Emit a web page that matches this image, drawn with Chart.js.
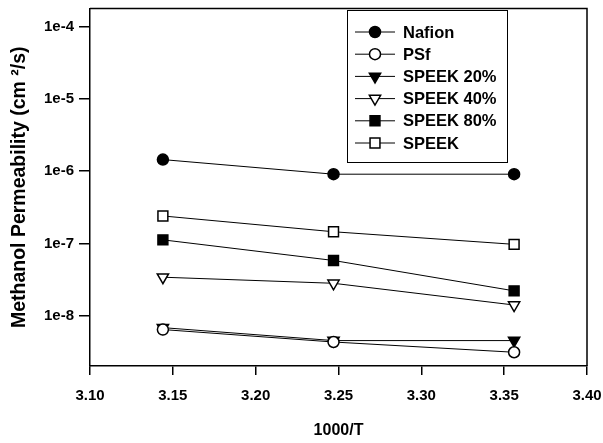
<!DOCTYPE html>
<html>
<head>
<meta charset="utf-8">
<script src="https://cdn.jsdelivr.net/npm/chart.js@4.4.1/dist/chart.umd.min.js"></script>
<style>
  html, body { margin: 0; padding: 0; background: #fff; }
  #wrap { width: 603px; height: 443px; }
</style>
</head>
<body>
<div id="wrap"><canvas id="c"></canvas></div>
<script>
// 1000/T values of the three temperatures
const xValues = [3.144, 3.247, 3.356];

// methanol permeability, cm2/s
const nafion  = [1.45e-6, 9.1e-7, 9.1e-7];
const psf     = [6.4e-9, 4.3e-9, 3.1e-9];
const speek20 = [6.8e-9, 4.5e-9, 4.5e-9];
const speek40 = [3.4e-8, 2.8e-8, 1.4e-8];
const speek80 = [1.12e-7, 5.8e-8, 2.2e-8];
const speek   = [2.4e-7, 1.45e-7, 9.7e-8];

const seriesNames = ['Nafion', 'PSf', 'SPEEK 20%', 'SPEEK 40%', 'SPEEK 80%', 'SPEEK'];

const xTicks = [3.10, 3.15, 3.20, 3.25, 3.30, 3.35, 3.40];
const yTicks = [1e-8, 1e-7, 1e-6, 1e-5, 1e-4];

const FONT = "'Liberation Sans', Arial, sans-serif";

// marker look per series
const markers = [
  { pointStyle: 'circle',   radius: 5.5, rotation: 0,   fill: '#000' },
  { pointStyle: 'circle',   radius: 5.5, rotation: 0,   fill: '#fff' },
  { pointStyle: 'triangle', radius: 6.5, rotation: 180, fill: '#000' },
  { pointStyle: 'triangle', radius: 6.5, rotation: 180, fill: '#fff' },
  { pointStyle: 'rect',     radius: 7,   rotation: 0,   fill: '#000' },
  { pointStyle: 'rect',     radius: 7,   rotation: 0,   fill: '#fff' }
];

const allValues = [nafion, psf, speek20, speek40, speek80, speek];

const datasets = allValues.map((vals, i) => ({
  label: seriesNames[i],
  data: vals.map((v, j) => ({ x: xValues[j], y: v })),
  borderColor: '#000',
  borderWidth: 1,
  backgroundColor: markers[i].fill,
  pointStyle: markers[i].pointStyle,
  pointRadius: markers[i].radius,
  pointRotation: markers[i].rotation,
  pointBackgroundColor: markers[i].fill,
  pointBorderColor: '#000',
  pointBorderWidth: 1.5,
  tension: 0,
  clip: false
}));

function noPad(axis) {
  axis.paddingTop = 0;
  axis.paddingBottom = 0;
  axis.paddingLeft = 0;
  axis.paddingRight = 0;
}

// box around the plot area and legend drawn inside it
const framePlugin = {
  id: 'frame',
  afterDraw(chart) {
    const ctx = chart.ctx;
    const a = chart.chartArea;
    ctx.save();
    ctx.strokeStyle = '#000';
    ctx.lineWidth = 1.5;
    ctx.beginPath();
    ctx.moveTo(a.left, a.top);
    ctx.lineTo(a.right, a.top);
    ctx.lineTo(a.right, a.bottom);
    ctx.stroke();

    // legend
    ctx.lineWidth = 1;
    ctx.strokeRect(347.5, 10.5, 160, 152);
    ctx.font = 'bold 16.5px ' + FONT;
    ctx.textBaseline = 'middle';
    ctx.textAlign = 'left';
    seriesNames.forEach((name, i) => {
      const y = 32 + i * 22.2;
      ctx.strokeStyle = '#000';
      ctx.lineWidth = 1;
      ctx.beginPath();
      ctx.moveTo(355, y);
      ctx.lineTo(395, y);
      ctx.stroke();
      ctx.fillStyle = markers[i].fill;
      ctx.lineWidth = 1.5;
      Chart.helpers.drawPoint(ctx, {
        pointStyle: markers[i].pointStyle,
        radius: markers[i].radius,
        rotation: markers[i].rotation,
        borderWidth: 1.5
      }, 375, y);
      ctx.fillStyle = '#000';
      ctx.fillText(name, 403, y + 1);
    });
    ctx.restore();
  }
};

new Chart(document.getElementById('c'), {
  type: 'line',
  data: { datasets: datasets },
  options: {
    responsive: true,
    maintainAspectRatio: false,
    animation: false,
    layout: { padding: { top: 0, right: 16, left: 0, bottom: 0 } },
    plugins: {
      legend: { display: false },
      tooltip: { enabled: false }
    },
    scales: {
      x: {
        type: 'linear',
        min: 3.10,
        max: 3.40,
        afterBuildTicks: axis => { axis.ticks = xTicks.map(v => ({ value: v })); },
        afterFit: axis => { axis.height = 77; noPad(axis); },
        ticks: {
          autoSkip: false,
          maxRotation: 0,
          padding: 12,
          color: '#000',
          font: { family: FONT, size: 15, weight: 'bold' },
          callback: v => Number(v).toFixed(2)
        },
        grid: { drawOnChartArea: false, drawTicks: true, tickLength: 9, color: '#000', lineWidth: 1.5 },
        border: { display: true, color: '#000', width: 1.5 },
        title: {
          display: true,
          text: '1000/T',
          color: '#000',
          font: { family: FONT, size: 16, weight: 'bold' },
          padding: { top: 0, bottom: 3 }
        }
      },
      y: {
        type: 'logarithmic',
        min: 2e-9,
        max: 1.8e-4,
        afterBuildTicks: axis => { axis.ticks = yTicks.map(v => ({ value: v })); },
        afterFit: axis => { axis.width = 90; noPad(axis); },
        ticks: {
          autoSkip: false,
          padding: 5,
          color: '#000',
          font: { family: FONT, size: 15, weight: 'bold' },
          callback: v => '1e' + Math.round(Math.log10(v))
        },
        grid: { drawOnChartArea: false, drawTicks: true, tickLength: 11, color: '#000', lineWidth: 1.5 },
        border: { display: true, color: '#000', width: 1.5 },
        title: {
          display: true,
          text: 'Methanol Permeability (cm ²/s)',
          color: '#000',
          font: { family: FONT, size: 19.5, weight: 'bold' },
          padding: { top: 8, bottom: 8 }
        }
      }
    }
  },
  plugins: [framePlugin]
});
</script>
</body>
</html>
